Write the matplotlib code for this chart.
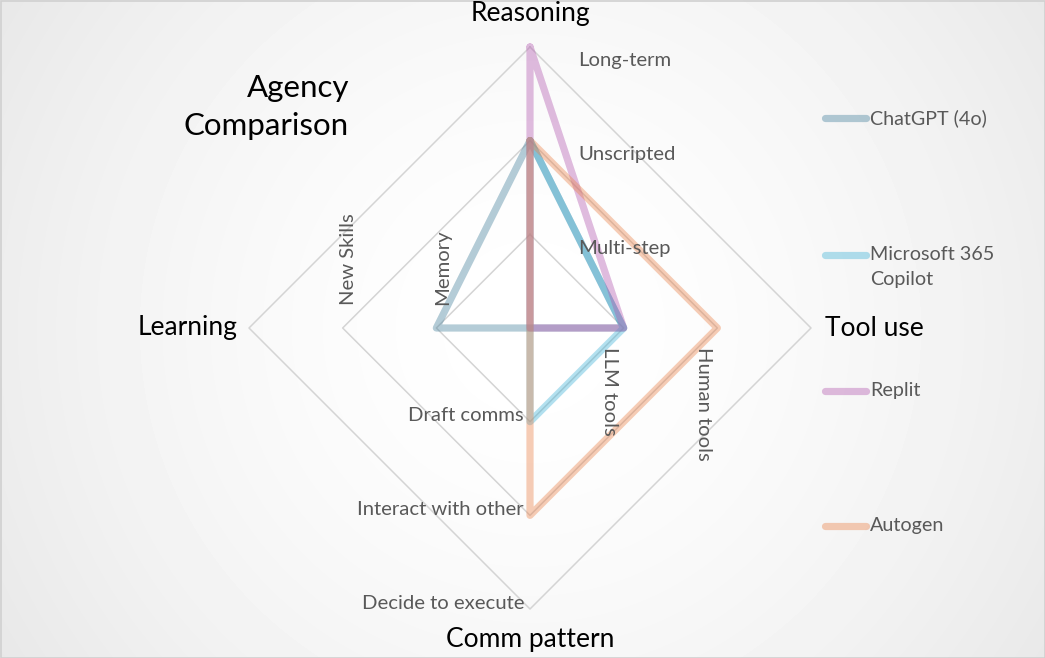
import matplotlib.pyplot as plt
import numpy as np

# Radar categories (clockwise from the top) and the tick labels on each spoke
categories = ["Reasoning", "Tool use", "Comm pattern", "Learning"]
reasoning_ticks = ["Multi-step", "Unscripted", "Long-term"]
tool_ticks = ["LLM tools", "Human tools"]
comm_ticks = ["Draft comms", "Interact with other", "Decide to execute"]
learning_ticks = ["Memory", "New Skills"]

# Scores per series, same order as categories
series_names = ["ChatGPT (4o)", "Microsoft 365\nCopilot", "Replit", "Autogen"]
chatgpt = [2, 1, 0, 1]
copilot = [2, 1, 1, 0]
replit = [3, 1, 0, 0]
autogen = [2, 2, 2, 0]
colors = ["#44809c", "#3fb2d7", "#b258af", "#eb8249"]

W, H = 1045, 658
CX, CY = 530, 328  # chart centre in pixels
UNIT = 93.67  # pixels per level
N_LEVELS = 3

FONT = ["Lato", "DejaVu Sans"]
GREY = "#595959"

angles = np.pi / 2 - np.arange(len(categories)) * np.pi / 2
dirs = np.column_stack([np.cos(angles), np.sin(angles)]).round(6)


def to_xy(values):
    v = np.asarray(values, dtype=float)[:, None] * dirs
    return np.vstack([v, v[:1]])


fig = plt.figure(figsize=(W / 100, H / 100), dpi=100)

# radial gradient background
bg = fig.add_axes([0, 0, 1, 1], zorder=0)
yy, xx = np.mgrid[0:H, 0:W]
r = np.hypot(xx - CX, yy - CY) / 620
shade = 1 - 0.09 * np.clip(r, 0, 1.3) ** 1.6
bg.imshow(shade, cmap="gray", vmin=0, vmax=1, aspect="auto", interpolation="bilinear")
bg.set_axis_off()
bg.add_patch(plt.Rectangle((0, 0), W - 1, H - 1, fill=False, ec="#d0d0d0", lw=1.2))

ax = fig.add_axes([0, 0, 1, 1], zorder=1)
ax.patch.set_alpha(0)
ax.set_xlim(-CX / UNIT, (W - CX) / UNIT)
ax.set_ylim(-(H - CY) / UNIT, CY / UNIT)
ax.set_axis_off()

# diamond gridlines
for lvl in range(1, N_LEVELS + 1):
    g = to_xy([lvl] * len(categories))
    ax.plot(g[:, 0], g[:, 1], color="#d4d4d4", lw=1.1, zorder=1)

# series
for vals, col in zip([chatgpt, copilot, replit, autogen], colors):
    p = to_xy(vals)
    ax.plot(p[:, 0], p[:, 1], color=col, alpha=0.4, lw=5.2,
            solid_joinstyle="round", solid_capstyle="round", zorder=3)

# category labels
cat_offsets = [((0, 33), "center", "center"), ((14, 0), "left", "center"),
               ((0, -30), "center", "center"), ((-11, 0), "right", "center")]
for i, (name, (off, ha, va)) in enumerate(zip(categories, cat_offsets)):
    ax.annotate(name, xy=dirs[i] * N_LEVELS, xytext=off, textcoords="offset pixels",
                ha=ha, va=va, fontsize=19, color="black", family=FONT)

# spoke tick labels
TICK_FS = 14.6
for lvl, t in enumerate(reasoning_ticks, start=1):
    ax.annotate(t, xy=(0, lvl), xytext=(48, -14), textcoords="offset pixels",
                ha="left", va="center", fontsize=TICK_FS, color=GREY, family=FONT)
for lvl, t in enumerate(tool_ticks, start=1):
    ax.annotate(t, xy=(lvl, 0), xytext=(-14, -19), textcoords="offset pixels",
                ha="center", va="top", rotation=-90, fontsize=TICK_FS, color=GREY, family=FONT)
for lvl, t in enumerate(comm_ticks, start=1):
    ax.annotate(t, xy=(0, -lvl), xytext=(-6, 6), textcoords="offset pixels",
                ha="right", va="center", fontsize=TICK_FS, color=GREY, family=FONT)
for lvl, t in enumerate(learning_ticks, start=1):
    ax.annotate(t, xy=(-lvl, 0), xytext=(6, 23), textcoords="offset pixels",
                ha="center", va="bottom", rotation=90, fontsize=TICK_FS, color=GREY, family=FONT)

# title
fig.text(349 / W, 1 - 107 / H, "Agency\nComparison", ha="right", va="center",
         fontsize=22.5, linespacing=1.45, family=FONT)

# legend drawn by hand to keep Excel's uneven spacing
legend_y = [118, 255, 391, 526]
for name, col, py in zip(series_names, colors, legend_y):
    yf = 1 - py / H
    ax.plot([825 / W, 866 / W], [yf, yf], transform=fig.transFigure, color=col,
            alpha=0.4, lw=5.2, solid_capstyle="round", clip_on=False)
    fig.text(870 / W, yf + 9 / H, name, ha="left", va="top",
             fontsize=14.2, color=GREY, family=FONT, linespacing=1.6)

fig.savefig("out.png", dpi=100)
